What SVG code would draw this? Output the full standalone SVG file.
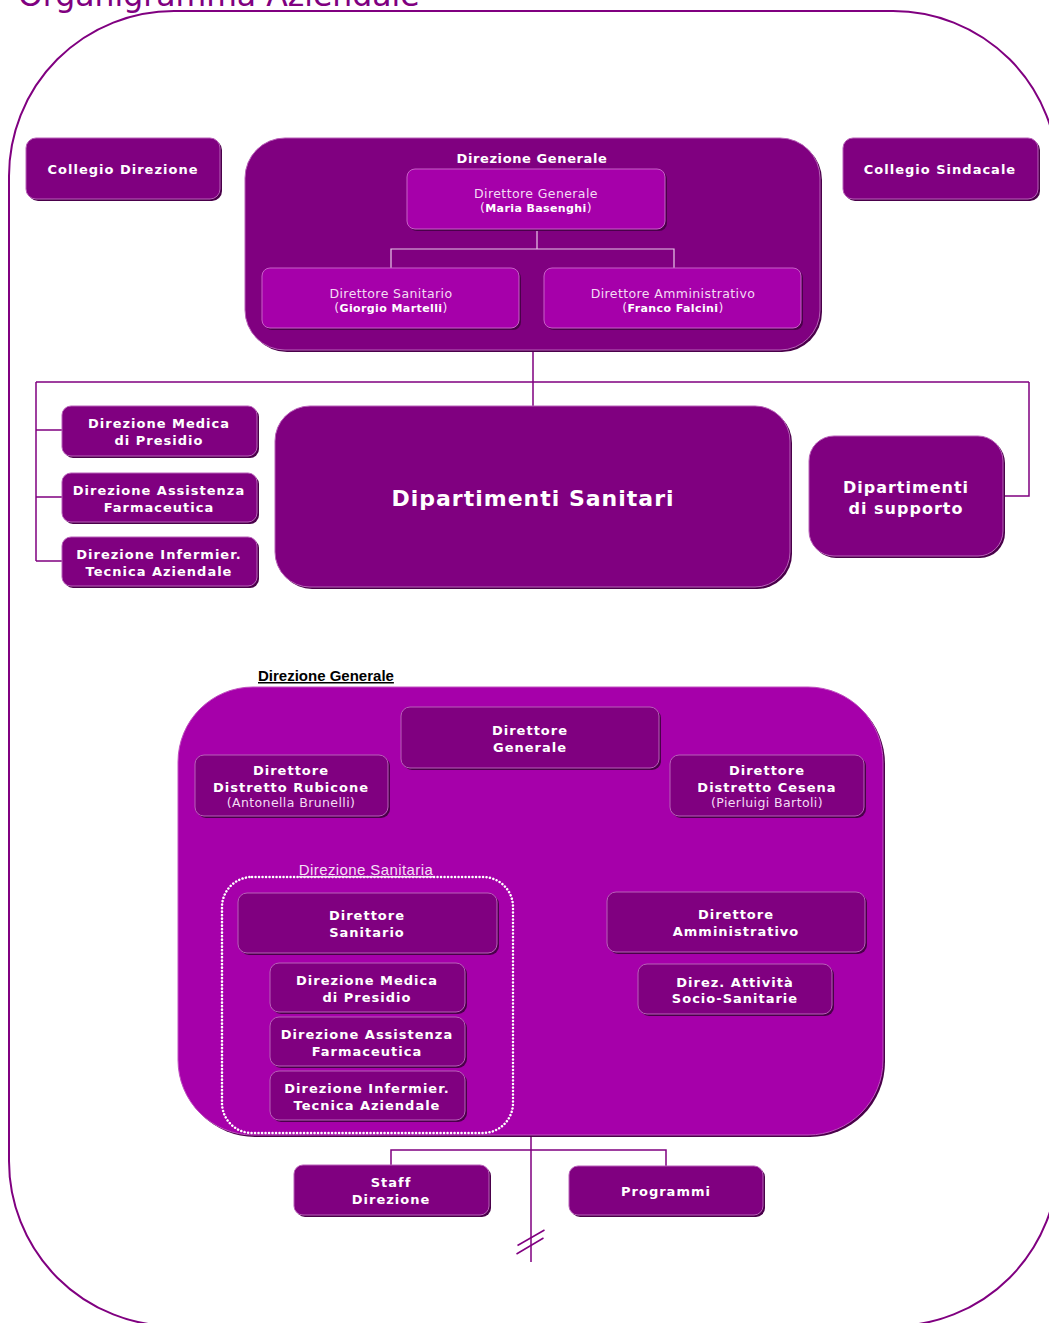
<svg xmlns="http://www.w3.org/2000/svg" width="1049" height="1323" viewBox="0 0 1049 1323">
<style>
.dk{fill:#800080;stroke:#B860B8;stroke-width:1}
.lt{fill:#A600AA;stroke:#C860C8;stroke-width:1}
.sh{fill:#4A004A}
.b{font-family:"DejaVu Sans",Verdana,sans-serif;font-weight:bold;font-size:13px;fill:#FFFFFF;text-anchor:middle;letter-spacing:1px}
.r{font-family:"DejaVu Sans",Verdana,sans-serif;font-size:12.5px;fill:#F4DCF4;text-anchor:middle;letter-spacing:0.4px}
.rb{font-weight:bold;font-size:11px;fill:#FFFFFF}
.cn{fill:none;stroke:#800080;stroke-width:1.5}
.ci{fill:none;stroke:#E8C8E8;stroke-width:1.2}
</style>
<rect x="9" y="11" width="1049" height="1315" rx="165" ry="165" fill="none" stroke="#800080" stroke-width="2"/>
<text x="18" y="6" font-family="DejaVu Sans,Verdana,sans-serif" font-size="31.5" fill="#800080">Organigramma Aziendale</text>

<g id="connectors">
<path class="cn" d="M533 350 V406 M36 382 H1029 M36 382 V561 M36 430 H62 M36 497 H62 M36 561 H62 M1029 382 V496 H1003"/>
<path class="cn" d="M531 1135 V1262 M391 1165 V1150 H666 V1166"/>
<path class="cn" d="M517.5 1245.5 L544.5 1230 M516.5 1254 L543.5 1238"/>
</g>

<g id="collegio-direzione">
<rect class="sh" x="28" y="140" width="194" height="61" rx="10"/>
<rect class="dk" x="26" y="138" width="194" height="61" rx="10"/>
<text class="b" x="123" y="174">Collegio Direzione</text>
</g>
<g id="collegio-sindacale">
<rect class="sh" x="845" y="140" width="195" height="61" rx="10"/>
<rect class="dk" x="843" y="138" width="195" height="61" rx="10"/>
<text class="b" x="940" y="174">Collegio Sindacale</text>
</g>

<g id="direzione-generale-top">
<rect class="sh" x="247" y="140" width="575" height="212" rx="40"/>
<rect class="dk" x="245" y="138" width="575" height="212" rx="40"/>
<text class="b" x="532" y="163" style="letter-spacing:0.6px">Direzione Generale</text>
</g>
<g id="dg-inner-connector">
<path class="ci" d="M537 229 V249 M391 268 V249 H674 V268"/>
</g>
<g id="direttore-generale-top">
<rect class="sh" x="409" y="171" width="258" height="60" rx="8"/>
<rect class="lt" x="407" y="169" width="258" height="60" rx="8"/>
<text class="r" x="536" y="197.5">Direttore Generale</text>
<text class="r" x="536" y="212">(<tspan class="rb">Maria Basenghi</tspan>)</text>
</g>
<g id="direttore-sanitario-top">
<rect class="sh" x="264" y="270" width="257" height="60" rx="8"/>
<rect class="lt" x="262" y="268" width="257" height="60" rx="8"/>
<text class="r" x="391" y="297.5">Direttore Sanitario</text>
<text class="r" x="391" y="312">(<tspan class="rb">Giorgio Martelli</tspan>)</text>
</g>
<g id="direttore-amministrativo-top">
<rect class="sh" x="546" y="270" width="257" height="60" rx="8"/>
<rect class="lt" x="544" y="268" width="257" height="60" rx="8"/>
<text class="r" x="673" y="297.5">Direttore Amministrativo</text>
<text class="r" x="673" y="312">(<tspan class="rb">Franco Falcini</tspan>)</text>
</g>

<g id="dir-medica-presidio">
<rect class="sh" x="64" y="408" width="195" height="50" rx="9"/>
<rect class="dk" x="62" y="406" width="195" height="50" rx="9"/>
<text class="b" x="159" y="428">Direzione Medica</text>
<text class="b" x="159" y="445">di Presidio</text>
</g>
<g id="dir-assistenza-farmaceutica">
<rect class="sh" x="64" y="475" width="195" height="49" rx="9"/>
<rect class="dk" x="62" y="473" width="195" height="49" rx="9"/>
<text class="b" x="159" y="495">Direzione Assistenza</text>
<text class="b" x="159" y="512">Farmaceutica</text>
</g>
<g id="dir-infermier">
<rect class="sh" x="64" y="539" width="195" height="49" rx="9"/>
<rect class="dk" x="62" y="537" width="195" height="49" rx="9"/>
<text class="b" x="159" y="559">Direzione Infermier.</text>
<text class="b" x="159" y="576">Tecnica Aziendale</text>
</g>

<g id="dipartimenti-sanitari">
<rect class="sh" x="277" y="408" width="515" height="181" rx="35"/>
<rect class="dk" x="275" y="406" width="515" height="181" rx="35"/>
<text class="b" x="533" y="506" style="font-size:22px">Dipartimenti Sanitari</text>
</g>
<g id="dipartimenti-supporto">
<rect class="sh" x="811" y="438" width="194" height="120" rx="25"/>
<rect class="dk" x="809" y="436" width="194" height="120" rx="25"/>
<text class="b" x="906" y="493" style="font-size:16px">Dipartimenti</text>
<text class="b" x="906" y="514" style="font-size:16px">di supporto</text>
</g>

<g id="direzione-generale-bottom">
<text x="258" y="681" font-family="Liberation Sans,Arial,sans-serif" font-weight="bold" font-size="15" fill="#000000" text-decoration="underline">Direzione Generale</text>
<rect class="sh" x="180" y="689" width="705" height="448" rx="75"/>
<rect x="178" y="687" width="705" height="448" rx="75" fill="#A600AA" stroke="#C050C0" stroke-width="1"/>
</g>
<g id="direttore-generale">
<rect class="sh" x="403" y="709" width="258" height="61" rx="9"/>
<rect class="dk" x="401" y="707" width="258" height="61" rx="9"/>
<text class="b" x="530" y="735">Direttore</text>
<text class="b" x="530" y="752">Generale</text>
</g>
<g id="direttore-rubicone">
<rect class="sh" x="197" y="757" width="193" height="61" rx="9"/>
<rect class="dk" x="195" y="755" width="193" height="61" rx="9"/>
<text class="b" x="291" y="775">Direttore</text>
<text class="b" x="291" y="792">Distretto Rubicone</text>
<text class="r" x="291" y="807">(Antonella Brunelli)</text>
</g>
<g id="direttore-cesena">
<rect class="sh" x="672" y="757" width="194" height="61" rx="9"/>
<rect class="dk" x="670" y="755" width="194" height="61" rx="9"/>
<text class="b" x="767" y="775">Direttore</text>
<text class="b" x="767" y="792">Distretto Cesena</text>
<text class="r" x="767" y="807">(Pierluigi Bartoli)</text>
</g>

<g id="direzione-sanitaria">
<rect x="222" y="877" width="291" height="256" rx="30" fill="none" stroke="#FFFFFF" stroke-width="2.5" stroke-dasharray="0.1 3.4" stroke-linecap="round"/>
<text x="366" y="875" font-family="Liberation Sans,Arial,sans-serif" font-size="15" letter-spacing="0.4" fill="#F4E0F4" text-anchor="middle" text-decoration="underline">Direzione Sanitaria</text>
</g>
<g id="direttore-sanitario">
<rect class="sh" x="240" y="895" width="259" height="60" rx="9"/>
<rect class="dk" x="238" y="893" width="259" height="60" rx="9"/>
<text class="b" x="367" y="920">Direttore</text>
<text class="b" x="367" y="937">Sanitario</text>
</g>
<g id="ds-medica">
<rect class="sh" x="272" y="965" width="195" height="49" rx="9"/>
<rect class="dk" x="270" y="963" width="195" height="49" rx="9"/>
<text class="b" x="367" y="985">Direzione Medica</text>
<text class="b" x="367" y="1002">di Presidio</text>
</g>
<g id="ds-assistenza">
<rect class="sh" x="272" y="1019" width="195" height="49" rx="9"/>
<rect class="dk" x="270" y="1017" width="195" height="49" rx="9"/>
<text class="b" x="367" y="1039">Direzione Assistenza</text>
<text class="b" x="367" y="1056">Farmaceutica</text>
</g>
<g id="ds-infermier">
<rect class="sh" x="272" y="1073" width="195" height="49" rx="9"/>
<rect class="dk" x="270" y="1071" width="195" height="49" rx="9"/>
<text class="b" x="367" y="1093">Direzione Infermier.</text>
<text class="b" x="367" y="1110">Tecnica Aziendale</text>
</g>
<g id="direttore-amministrativo">
<rect class="sh" x="609" y="894" width="258" height="60" rx="9"/>
<rect class="dk" x="607" y="892" width="258" height="60" rx="9"/>
<text class="b" x="736" y="919">Direttore</text>
<text class="b" x="736" y="936">Amministrativo</text>
</g>
<g id="direz-socio-sanitarie">
<rect class="sh" x="640" y="966" width="194" height="50" rx="9"/>
<rect class="dk" x="638" y="964" width="194" height="50" rx="9"/>
<text class="b" x="735" y="987">Direz. Attività</text>
<text class="b" x="735" y="1003">Socio-Sanitarie</text>
</g>

<g id="staff-direzione">
<rect class="sh" x="296" y="1167" width="195" height="50" rx="9"/>
<rect class="dk" x="294" y="1165" width="195" height="50" rx="9"/>
<text class="b" x="391" y="1187">Staff</text>
<text class="b" x="391" y="1204">Direzione</text>
</g>
<g id="programmi">
<rect class="sh" x="571" y="1168" width="194" height="49" rx="9"/>
<rect class="dk" x="569" y="1166" width="194" height="49" rx="9"/>
<text class="b" x="666" y="1196">Programmi</text>
</g>
</svg>
